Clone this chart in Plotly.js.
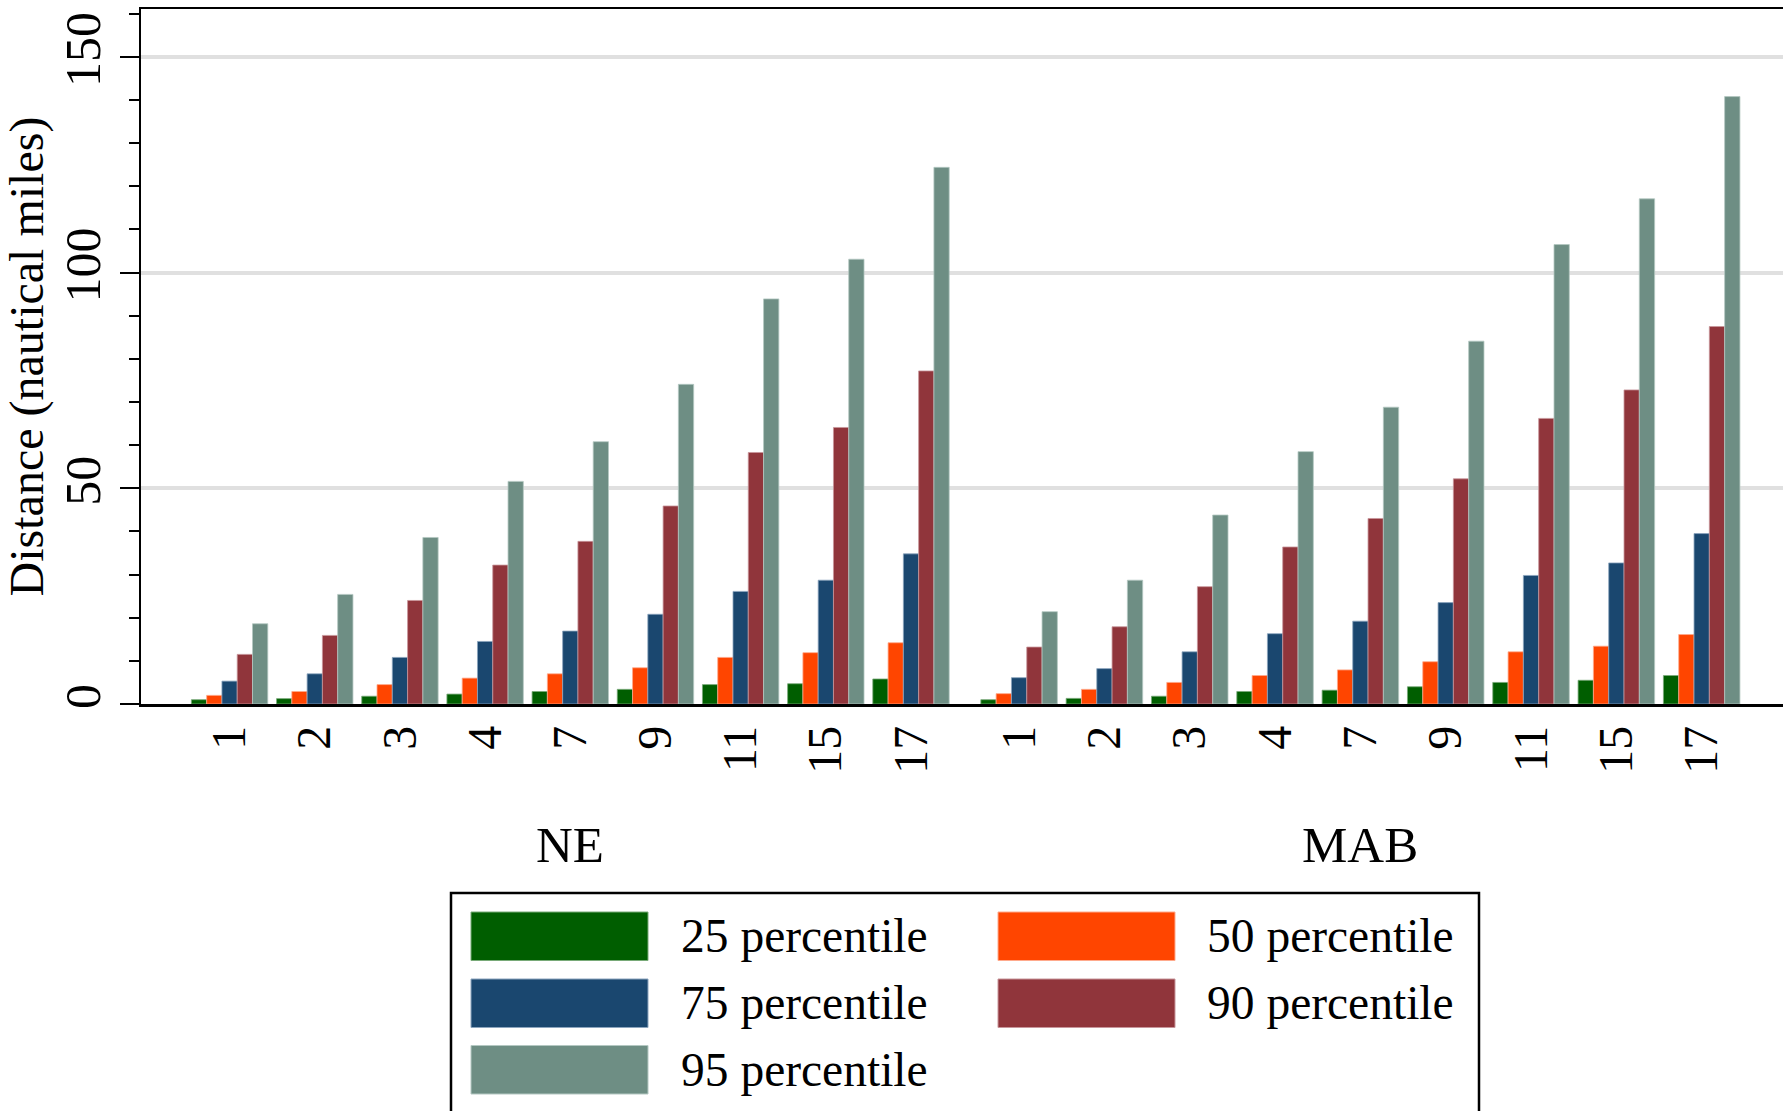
<!DOCTYPE html>
<html><head><meta charset="utf-8">
<script src="https://cdn.plot.ly/plotly-3.0.1.min.js"></script>
<style>html,body{margin:0;padding:0;background:#fff}</style>
</head><body>
<div id="chart" style="width:1783px;height:1111px"></div>
<script>
// ---- data ----
const categories = ["1","2","3","4","7","9","11","15","17"];
const regions = ["NE","MAB"];
const seriesNames = ["25 percentile","50 percentile","75 percentile","90 percentile","95 percentile"];

const ne25 = [1.0, 1.25, 1.8, 2.3, 2.9, 3.4, 4.5, 4.7, 5.8];
const ne50 = [2.0, 2.9, 4.5, 6.0, 7.0, 8.4, 10.8, 11.9, 14.2];
const ne75 = [5.3, 7.0, 10.8, 14.5, 16.9, 20.8, 26.1, 28.7, 34.8];
const ne90 = [11.5, 15.9, 24.0, 32.2, 37.7, 45.9, 58.3, 64.1, 77.2];
const ne95 = [18.6, 25.4, 38.6, 51.6, 60.8, 74.1, 93.9, 103.1, 124.4];

const mab25 = [1.0, 1.3, 1.8, 2.9, 3.2, 4.0, 5.0, 5.5, 6.6];
const mab50 = [2.4, 3.4, 5.0, 6.6, 7.9, 9.8, 12.1, 13.4, 16.1];
const mab75 = [6.1, 8.2, 12.1, 16.3, 19.2, 23.5, 29.8, 32.7, 39.5];
const mab90 = [13.2, 17.9, 27.2, 36.4, 43.0, 52.2, 66.2, 72.8, 87.5];
const mab95 = [21.4, 28.7, 43.8, 58.5, 68.8, 84.1, 106.5, 117.1, 140.8];

const yTitle = "Distance (nautical miles)";

// ---- style ----
const colors = ["rgb(0,94,0)","rgb(255,69,0)","rgb(26,71,111)","rgb(144,53,59)","rgb(110,142,132)"];
const edge = ["rgb(120,170,120)","rgb(255,170,140)","rgb(140,165,190)","rgb(200,150,155)","rgb(180,200,194)"];
const FONT = "Liberation Serif, Times New Roman, serif";

const regionData = [[ne25, ne50, ne75, ne90, ne95], [mab25, mab50, mab75, mab90, mab95]];
const axisIds = ["x", "x2"];

const W = 1783, H = 1111;
const ML = 141, MR = 0, MT = 9, MB = 407;
const PW = W - ML - MR, PH = H - MT - MB;
const xp = px => (px - ML) / PW;
const yp = py => (H - MB - py) / PH;

const traces = [];
regions.forEach((r, ri) => {
  seriesNames.forEach((s, si) => {
    traces.push({
      type: "bar",
      name: s,
      x: categories,
      y: regionData[ri][si],
      xaxis: axisIds[ri],
      yaxis: "y",
      marker: {color: colors[si], line: {color: edge[si], width: 0.8}},
      showlegend: false,
      hoverinfo: "x+y+name"
    });
  });
});

const split = xp(965);
const xBase = {
  type: "category",
  showline: true, linecolor: "#000", linewidth: 2.5, mirror: true,
  ticks: "", tickangle: -90,
  tickfont: {family: FONT, size: 48, color: "#000"},
  showgrid: false, zeroline: false, anchor: "y", fixedrange: true
};

const annotations = [];
const shapes = [];
// region labels centred on middle category of each group
regions.forEach((r, ri) => {
  annotations.push({
    xref: axisIds[ri], yref: "paper",
    x: Math.floor(categories.length / 2), y: yp(845),
    text: r, showarrow: false, xanchor: "center", yanchor: "middle",
    font: {family: FONT, size: 51, color: "#000"}
  });
});

// legend box (custom, large swatches)
shapes.push({type: "rect", xref: "paper", yref: "paper",
  x0: xp(451), x1: xp(1479), y0: yp(893), y1: yp(1130),
  line: {color: "#000", width: 2.5}, fillcolor: "rgba(0,0,0,0)"});
const colSw = [471, 998], swW = 177, colTx = [679, 1205];
const rowTop = [912, 979, 1045.5], swH = 48.5;
seriesNames.forEach((s, si) => {
  const c = si % 2, r = Math.floor(si / 2);
  shapes.push({type: "rect", xref: "paper", yref: "paper",
    x0: xp(colSw[c]), x1: xp(colSw[c] + swW),
    y0: yp(rowTop[r]), y1: yp(rowTop[r] + swH),
    line: {color: edge[si], width: 1}, fillcolor: colors[si]});
  annotations.push({xref: "paper", yref: "paper",
    x: xp(colTx[c]), y: yp(rowTop[r] + swH / 2),
    text: s, showarrow: false, xanchor: "left", yanchor: "middle",
    font: {family: FONT, size: 47.5, color: "#000"}});
});

const layout = {
  width: W, height: H,
  margin: {l: ML, r: MR, t: MT, b: MB, pad: 0},
  paper_bgcolor: "#fff", plot_bgcolor: "#fff",
  barmode: "group", bargap: 0.103, bargroupgap: 0,
  showlegend: false,
  xaxis: Object.assign({}, xBase, {domain: [0, split], range: [-1.04, 8.634]}),
  xaxis2: Object.assign({}, xBase, {domain: [split, 1], range: [-0.634, 8.953]}),
  yaxis: {
    range: [0, 161.1],
    showline: true, linecolor: "#000", linewidth: 2.5, mirror: false,
    ticks: "outside", ticklen: 19, tickwidth: 2, tickcolor: "#000",
    tickvals: [0, 50, 100, 150], tickangle: -90,
    tickfont: {family: FONT, size: 50, color: "#000"},
    showgrid: true, gridcolor: "#e0e0e0", gridwidth: 4,
    zeroline: false,
    minor: {tickvals: [10,20,30,40,60,70,80,90,110,120,130,140,160], ticks: "outside", ticklen: 10, tickwidth: 2, tickcolor: "#000", showgrid: false},
    title: {text: yTitle, font: {family: FONT, size: 48, color: "#000"}, standoff: 0},
    fixedrange: true
  },
  annotations: annotations,
  shapes: shapes
};

Plotly.newPlot("chart", traces, layout, {displayModeBar: false, staticPlot: true});
</script>
</body></html>
